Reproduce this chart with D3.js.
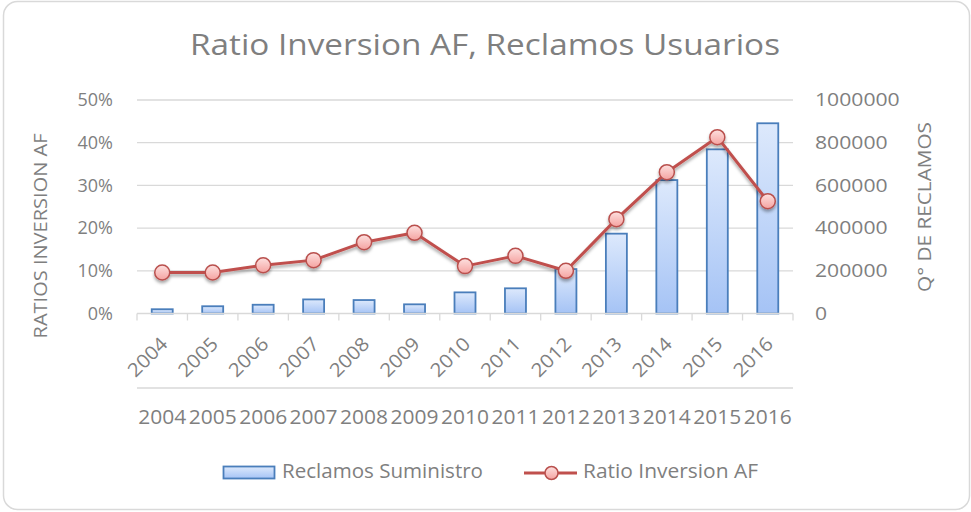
<!DOCTYPE html>
<html><head><meta charset="utf-8">
<script src="https://cdn.jsdelivr.net/npm/d3@7"></script>
<style>body{margin:0;background:#fff}svg{display:block}text{font-family:"Open Sans",sans-serif;fill:#7f7f7f}</style>
</head><body>
<svg id="c" width="971" height="512"></svg>
<script>
const years = ["2004","2005","2006","2007","2008","2009","2010","2011","2012","2013","2014","2015","2016"];
const reclamos = [20000,34000,41000,66000,63000,43000,99000,118000,208000,374000,625000,769000,891000];
const ratio = [0.096,0.096,0.113,0.125,0.167,0.189,0.111,0.135,0.100,0.221,0.331,0.413,0.263];
const leftTicks = [0,0.1,0.2,0.3,0.4,0.5];
const rightTicks = [0,200000,400000,600000,800000,1000000];

const svg = d3.select("#c");
const defs = svg.append("defs");
const bg = defs.append("linearGradient").attr("id","barG").attr("x1",0).attr("y1",0).attr("x2",0).attr("y2",1);
bg.append("stop").attr("offset","0%").attr("stop-color","#dde9fc");
bg.append("stop").attr("offset","100%").attr("stop-color","#a5c3f5");
const mg = defs.append("linearGradient").attr("id","mkG").attr("x1",0).attr("y1",0).attr("x2",0).attr("y2",1);
mg.append("stop").attr("offset","0%").attr("stop-color","#fde0df");
mg.append("stop").attr("offset","100%").attr("stop-color","#f5a3a1");
const f = defs.append("filter").attr("id","sh").attr("x","-20%").attr("y","-20%").attr("width","140%").attr("height","160%");
f.append("feDropShadow").attr("dx",0).attr("dy",2.5).attr("stdDeviation",1.8).attr("flood-color","#000").attr("flood-opacity",0.35);

// outer border
svg.append("rect").attr("x",3.5).attr("y",1.5).attr("width",966).attr("height",508).attr("rx",14)
  .attr("fill","#fff").attr("stroke","#d9d9d9").attr("stroke-width",1.5);

const x0 = 137, x1 = 793, yTop = 100, yBot = 313.5;
const x = d3.scaleBand().domain(years).range([x0,x1]).paddingInner(0).paddingOuter(0);
const yL = d3.scaleLinear().domain([0,0.5]).range([yBot,yTop]);
const yR = d3.scaleLinear().domain([0,1000000]).range([yBot,yTop]);

// title
svg.append("text").attr("x",485).attr("y",47).attr("text-anchor","middle").attr("dominant-baseline","middle")
  .style("font-size","29px").attr("textLength",590).attr("lengthAdjust","spacingAndGlyphs")
  .text("Ratio Inversion AF, Reclamos Usuarios");

// gridlines
svg.append("g").selectAll("line").data(leftTicks.slice(1)).join("line")
  .attr("x1",x0).attr("x2",x1).attr("y1",d=>yL(d)).attr("y2",d=>yL(d))
  .attr("stroke","#d9d9d9").attr("stroke-width",1.3);

// left axis labels
const gl = svg.append("g").attr("transform",`translate(${x0},0)`)
  .call(d3.axisLeft(yL).tickValues(leftTicks).tickFormat(d3.format(".0%")).tickSize(0).tickPadding(24));
gl.select(".domain").remove();
gl.selectAll("text").style("font-size","18px").attr("fill","#7f7f7f").style("font-family","'Open Sans',sans-serif");

// right axis labels
const gr = svg.append("g").attr("transform",`translate(${x1},0)`)
  .call(d3.axisRight(yR).tickValues(rightTicks).tickFormat(d3.format("d")).tickSize(0).tickPadding(22));
gr.select(".domain").remove();
gr.selectAll("text").style("font-size","18px").attr("fill","#7f7f7f").style("font-family","'Open Sans',sans-serif")
  .attr("textLength",function(d){return String(d).length*12.1;}).attr("lengthAdjust","spacingAndGlyphs");

// axis titles
svg.append("text").attr("transform","translate(42,236) rotate(-90)").attr("text-anchor","middle").attr("dominant-baseline","middle")
  .style("font-size","18px").attr("textLength",205).attr("lengthAdjust","spacingAndGlyphs").text("RATIOS INVERSION AF");
svg.append("text").attr("transform","translate(926,207) rotate(-90)").attr("text-anchor","middle").attr("dominant-baseline","middle")
  .style("font-size","18px").attr("textLength",170).attr("lengthAdjust","spacingAndGlyphs").text("Q° DE RECLAMOS");

// bars
const bw = 21;
svg.append("g").selectAll("rect").data(years).join("rect")
  .attr("x",(d)=>x(d)+x.bandwidth()/2-bw/2).attr("width",bw)
  .attr("y",(d,i)=>yR(reclamos[i])).attr("height",(d,i)=>yBot-yR(reclamos[i]))
  .attr("fill","url(#barG)").attr("stroke","#4a7ebb").attr("stroke-width",1.8);

// x axis line + ticks
const gx = svg.append("g").attr("transform",`translate(0,${yBot})`);
gx.append("line").attr("x1",x0).attr("x2",x1).attr("y1",0).attr("y2",0).attr("stroke","#d9d9d9").attr("stroke-width",1.5);
const bounds = years.map(d=>x(d)).concat([x1]);
gx.selectAll("line.t").data(bounds).join("line").attr("class","t")
  .attr("x1",d=>d).attr("x2",d=>d).attr("y1",0).attr("y2",7).attr("stroke","#d9d9d9").attr("stroke-width",1.3);

// rotated year labels
svg.append("g").selectAll("text").data(years).join("text")
  .attr("transform",d=>`translate(${x(d)+x.bandwidth()/2+3},${yBot+28}) rotate(-45)`)
  .attr("text-anchor","end").attr("dominant-baseline","middle").style("font-size","19px")
  .attr("textLength",47).attr("lengthAdjust","spacingAndGlyphs").text(d=>d);

// second category row
svg.append("line").attr("x1",x0).attr("x2",x1).attr("y1",388).attr("y2",388).attr("stroke","#d9d9d9").attr("stroke-width",1.5);
svg.append("g").selectAll("text").data(years).join("text")
  .attr("x",d=>x(d)+x.bandwidth()/2).attr("y",419).attr("text-anchor","middle").attr("dominant-baseline","middle")
  .style("font-size","20px").attr("textLength",48).attr("lengthAdjust","spacingAndGlyphs").text(d=>d);

// line
const line = d3.line().x((d,i)=>x(years[i])+x.bandwidth()/2).y(d=>yL(d));
const lg = svg.append("g").attr("filter","url(#sh)");
lg.append("path").datum(ratio).attr("d",line).attr("fill","none").attr("stroke","#c0504d").attr("stroke-width",3).attr("stroke-linejoin","round");
lg.selectAll("circle").data(ratio).join("circle")
  .attr("cx",(d,i)=>x(years[i])+x.bandwidth()/2).attr("cy",d=>yL(d)).attr("r",7.5)
  .attr("fill","url(#mkG)").attr("stroke","#b9504d").attr("stroke-width",1.5);

// legend
const leg = svg.append("g");
leg.append("rect").attr("x",223.5).attr("y",466.5).attr("width",51).attr("height",12)
  .attr("fill","url(#barG)").attr("stroke","#4a7ebb").attr("stroke-width",1.8);
leg.append("text").attr("x",282).attr("y",473).attr("dominant-baseline","middle").style("font-size","20px")
  .attr("textLength",201).attr("lengthAdjust","spacingAndGlyphs").text("Reclamos Suministro");
leg.append("line").attr("x1",524).attr("x2",577).attr("y1",473).attr("y2",473).attr("stroke","#c0504d").attr("stroke-width",3);
leg.append("circle").attr("cx",551.5).attr("cy",473).attr("r",6.5).attr("fill","url(#mkG)").attr("stroke","#b9504d").attr("stroke-width",1.5);
leg.append("text").attr("x",583).attr("y",473).attr("dominant-baseline","middle").style("font-size","20px")
  .attr("textLength",175).attr("lengthAdjust","spacingAndGlyphs").text("Ratio Inversion AF");
</script>
</body></html>
